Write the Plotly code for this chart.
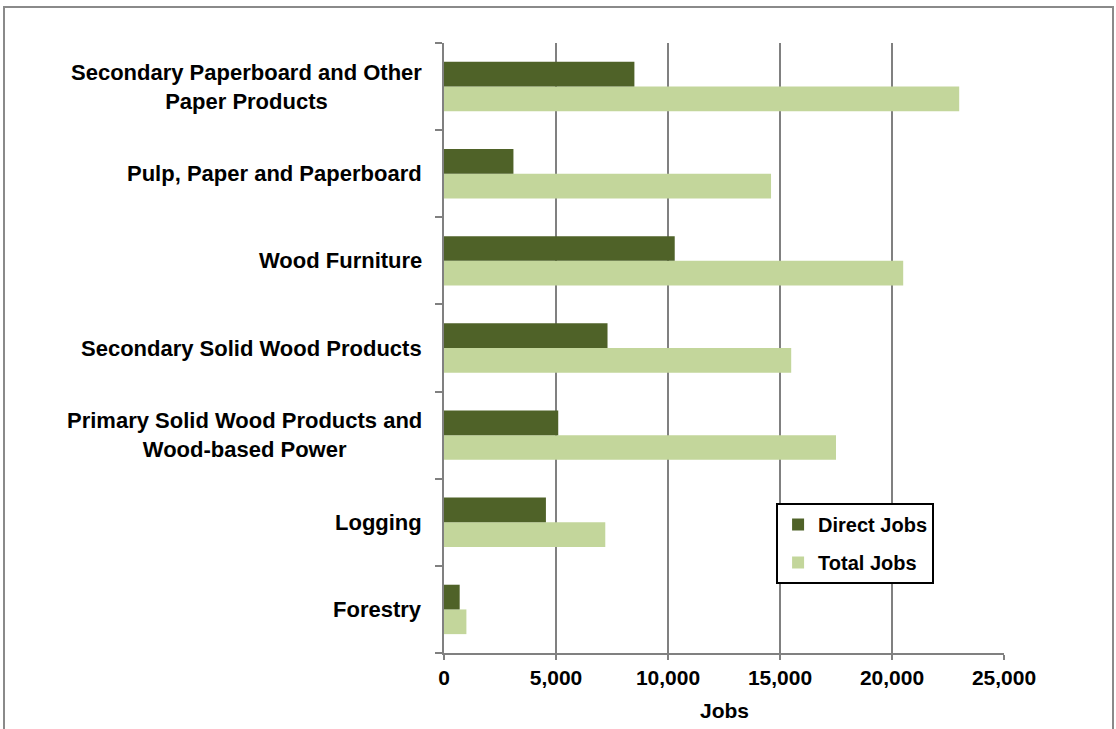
import plotly.graph_objects as go

categories = [
    "Forestry",
    "Logging",
    "Primary Solid Wood Products and<br>Wood-based Power",
    "Secondary Solid Wood Products",
    "Wood Furniture",
    "Pulp, Paper and Paperboard",
    "Secondary Paperboard and Other<br>Paper Products",
]
direct_jobs = [700, 4550, 5100, 7300, 10300, 3100, 8500]
total_jobs = [1000, 7200, 17500, 15500, 20500, 14600, 23000]
x_ticks = [0, 5000, 10000, 15000, 20000, 25000]
x_tick_labels = ["0", "5,000", "10,000", "15,000", "20,000", "25,000"]

FONT = "Liberation Sans, Arial, sans-serif"
GRID = "#808080"

fig = go.Figure()
fig.add_trace(go.Bar(
    y=categories, x=total_jobs, orientation="h", name="<b>Total Jobs</b>",
    marker=dict(color="#C3D69B", line=dict(width=0)),
    legendgroup="t", legendrank=2,
))
fig.add_trace(go.Bar(
    y=categories, x=direct_jobs, orientation="h", name="<b>Direct Jobs</b>",
    marker=dict(color="#4F6228", line=dict(width=0)),
    legendgroup="d", legendrank=1,
))

annotations = []
for c in categories:
    annotations.append(dict(
        x=0, xref="paper", xanchor="right", xshift=-20,
        y=c, yref="y", yanchor="middle",
        text="<b>" + c + "</b>", showarrow=False, align="center",
        font=dict(family=FONT, size=22, color="#000000"),
    ))
annotations.append(dict(
    x=0.5, xref="paper", xanchor="center", y=-0.072, yref="paper", yanchor="top",
    text="<b>Jobs</b>", showarrow=False,
    font=dict(family=FONT, size=21, color="#000000"),
))

fig.update_layout(
    width=1116, height=729,
    margin=dict(l=444, r=112, t=43, b=76),
    paper_bgcolor="white", plot_bgcolor="white",
    barmode="group", bargap=0.433, bargroupgap=0,
    font=dict(family=FONT, color="#000000"),
    annotations=annotations,
    showlegend=True,
    legend=dict(
        x=0.593, y=(653 - 503) / 610, xanchor="left", yanchor="top",
        bordercolor="#000000", borderwidth=2, bgcolor="white",
        font=dict(family=FONT, size=20, color="#000000"),
        tracegroupgap=9, itemwidth=30,
    ),
    xaxis=dict(
        range=[0, 25000], tickvals=x_ticks,
        ticktext=["<b>" + t + "</b>" for t in x_tick_labels],
        tickfont=dict(family=FONT, size=21, color="#000000"),
        showgrid=True, gridcolor=GRID, gridwidth=1.5,
        showline=True, linecolor=GRID, linewidth=1.5,
        ticks="outside", ticklen=5, tickcolor=GRID, tickwidth=1.5,
        zeroline=False, fixedrange=True,
    ),
    yaxis=dict(
        type="category", categoryorder="array", categoryarray=categories,
        showticklabels=False, tickson="boundaries",
        ticks="outside", ticklen=7, tickcolor=GRID, tickwidth=1.5,
        showline=True, linecolor=GRID, linewidth=1.5,
        showgrid=False, zeroline=False, fixedrange=True,
    ),
    shapes=[dict(
        type="rect", xref="paper", yref="paper",
        x0=(4 - 444) / 560, x1=(1113 - 444) / 560,
        y0=(653 - 740) / 610, y1=(653 - 7) / 610,
        line=dict(color="#8a8a8a", width=2), fillcolor="rgba(0,0,0,0)",
        layer="below",
    )],
)

fig.write_html("out.html")
